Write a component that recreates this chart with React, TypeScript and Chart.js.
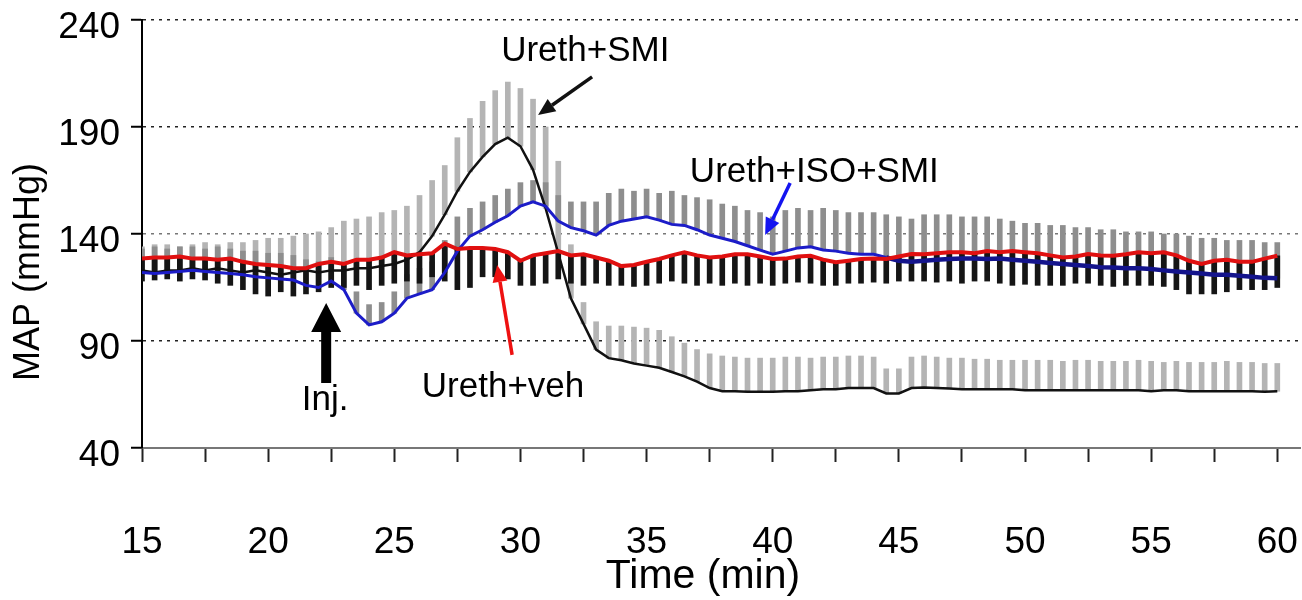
import React, { useEffect, useRef } from 'react';
import { Chart, registerables } from 'chart.js';

Chart.register(...registerables);

const FONT = '"Liberation Sans", Arial, Helvetica, sans-serif';

// Time axis (min), sampled every 0.5 min
const timeMin = [
  15, 15.5, 16, 16.5, 17, 17.5, 18, 18.5, 19, 19.5,
  20, 20.5, 21, 21.5, 22, 22.5, 23, 23.5, 24, 24.5,
  25, 25.5, 26, 26.5, 27, 27.5, 28, 28.5, 29, 29.5,
  30, 30.5, 31, 31.5, 32, 32.5, 33, 33.5, 34, 34.5,
  35, 35.5, 36, 36.5, 37, 37.5, 38, 38.5, 39, 39.5,
  40, 40.5, 41, 41.5, 42, 42.5, 43, 43.5, 44, 44.5,
  45, 45.5, 46, 46.5, 47, 47.5, 48, 48.5, 49, 49.5,
  50, 50.5, 51, 51.5, 52, 52.5, 53, 53.5, 54, 54.5,
  55, 55.5, 56, 56.5, 57, 57.5, 58, 58.5, 59, 59.5,
  60,
];

// Ureth+SMI: mean MAP and upper error
const smiMean = [
  123, 122, 123, 123, 124, 123, 124, 123, 122, 123,
  122, 121, 122, 123, 122, 123, 123, 124, 124, 125,
  126, 128, 131.5, 139, 149, 160, 169, 176, 182, 185,
  181, 170, 152, 131, 110, 98, 86, 82, 81, 79.5,
  78.5, 77.5, 75.5, 73.5, 71, 68, 66.5, 66.5, 66.3, 66.3,
  66.3, 66.5, 66.5, 67, 67.5, 67.5, 68, 68, 68, 65.5,
  65.5, 68, 68.3, 68, 67.8, 67.5, 67.5, 67.5, 67.5, 67.5,
  67, 67, 67, 67, 67, 67, 67, 67, 67, 67,
  66.5, 67, 67, 66.5, 66.5, 66.5, 66.5, 66.5, 66.5, 66.3,
  66.5,
];
const smiUpper = [
  134, 135, 135, 134, 135, 136, 135, 136, 136, 137,
  138, 138, 139, 140, 141, 143, 146, 147, 148, 150,
  151, 153, 158, 165, 172, 185, 194, 202, 207, 211,
  208, 203, 190, 174, 135, 108, 99, 97, 97, 96.5,
  96, 95, 92, 89, 86, 84, 83, 82.5, 82, 82,
  82, 82.5, 82.5, 82, 82.5, 82.5, 83, 83, 82.5, 77,
  77, 82.5, 83, 82.5, 82, 82, 81.5, 81.5, 81, 81,
  81, 81, 81, 80.5, 81, 81, 80.5, 80.5, 80.5, 81,
  80.5, 80, 80.5, 80, 80, 80, 80.5, 80, 80, 79.5,
  79.5,
];

// Ureth+ISO+SMI: mean MAP and upper error
const isoMean = [
  122, 121.5, 122, 122.5, 123, 122.5, 122, 121.5, 121, 120,
  119.5, 119, 118.5, 116, 115, 118, 114, 103, 97.5, 99,
  103, 110, 112, 114, 122, 132, 139, 142, 145.5, 148.5,
  153, 155, 153, 146, 143, 141.5, 139.5, 144, 146, 147,
  148, 146.5, 144.5, 144, 142, 139.5, 138, 136.5, 134.5, 132.5,
  130.6, 132, 133.5, 134, 132.5, 132, 131, 130.5, 130.5, 129,
  127.5, 127, 127.5, 128, 128.3, 128.5, 128.5, 128.3, 128.5, 128,
  127.5, 127, 126.5, 126, 125.5, 125, 124.5, 124.3, 124, 124,
  123.6, 123, 122.5, 122, 121.5, 121, 121, 120.5, 120, 119.5,
  119.3,
];
const isoUpper = [
  133, 134, 133, 134, 134, 133, 134, 133, 132, 132,
  131, 131, 130, 128, 127, 129, 125, 113, 107, 108,
  113, 121, 124, 127, 137, 148, 152, 155, 158, 161,
  164, 165, 164, 158, 155, 155, 155, 159, 161, 160,
  161, 159, 160, 158, 157, 156, 154, 153, 151, 150,
  148, 151, 152, 151, 152, 151, 150, 150, 150, 149,
  148, 147, 149, 149, 149, 148, 148, 148, 147, 146,
  145, 145, 144, 144, 143, 143, 142, 142, 141, 141,
  141, 140, 140, 139, 138, 138, 137, 137, 137, 136,
  136,
];

// Ureth+veh: mean MAP and lower error
const vehMean = [
  128.5, 129, 129, 129.5, 128.5, 128.5, 128, 128.5, 127, 126,
  125.5, 125, 124, 124, 126, 127, 126, 128, 128, 129,
  131.5, 130, 130.5, 131, 135.5, 133, 133.5, 133.5, 133, 131.5,
  127.5, 130, 131, 132, 130, 130.5, 129, 127.5, 125, 125.5,
  127, 128.3, 130, 131.5, 130, 129, 129.5, 130.5, 130.5, 129.5,
  128.3, 128.5, 129.5, 129.8, 128, 126.8, 127.5, 128.3, 128.5, 128.3,
  129.5, 130.6, 130.5, 131, 131.5, 131.5, 131, 132, 131.5, 132,
  131.5, 131, 130, 129, 129.5, 130.6, 130, 129.8, 130.5, 131.5,
  131, 131.5, 130, 127.5, 126, 127.5, 128, 127, 127, 128.5,
  129.8,
];
const vehLower = [
  118, 118.5, 119, 118, 119, 118.5, 117, 116, 114, 112,
  111, 113, 111, 112, 113, 115, 115, 116, 114, 116,
  117, 118, 117, 120, 118, 114, 115, 120, 120, 119,
  116, 116, 117, 119, 117, 116, 117, 116, 116, 115.5,
  116, 117, 118, 117, 116, 117, 116, 117, 116, 117,
  116, 117, 117.5, 117, 116, 116, 117, 117, 117.5, 117,
  118, 118, 118, 117.5, 118, 117, 118, 118, 117, 116,
  116.5, 116, 116, 116, 117, 117, 116, 115.5, 116, 116,
  116, 115.5, 114, 112, 112, 112, 113, 114, 114, 114,
  115,
];

const yTickValues = [40, 90, 140, 190, 240];
const xTickValues = [15, 17.5, 20, 22.5, 25, 27.5, 30, 32.5, 35, 37.5, 40, 42.5, 45, 47.5, 50, 52.5, 55, 57.5, 60];
const xLabelValues = [15, 20, 25, 30, 35, 40, 45, 50, 55, 60];

// Annotations, placed in data units (min, mmHg)
const noteTexts = [
  { text: 'Ureth+SMI', t: 32.57, v: 225.5 },
  { text: 'Ureth+ISO+SMI', t: 41.65, v: 169 },
  { text: 'Ureth+veh', t: 29.31, v: 68.5 },
  { text: 'Inj.', t: 22.26, v: 62.4 },
];
const noteArrows = [
  { color: '#111111', t1: 32.84, v1: 213.4, t2: 30.7, v2: 195.6 },
  { color: '#1414f0', t1: 40.69, v1: 163.8, t2: 39.7, v2: 139.5 },
  { color: '#ee1111', t1: 29.67, v1: 83.5, t2: 29.08, v2: 125.5 },
];
const injArrow = { t: 22.3, tipV: 107.8, headV: 94.2, tailV: 70.4 };
const navyFrom = 44.5; // ISO+SMI trace drawn darker after this time

const annotationPlugin = {
  id: 'figureNotes',
  afterDatasetsDraw(chart: any) {
    const { ctx, scales } = chart;
    const x = scales.x;
    const y = scales.y;
    ctx.save();
    // arrows
    for (const a of noteArrows) {
      const x1 = x.getPixelForValue(a.t1);
      const y1 = y.getPixelForValue(a.v1);
      const x2 = x.getPixelForValue(a.t2);
      const y2 = y.getPixelForValue(a.v2);
      const ang = Math.atan2(y2 - y1, x2 - x1);
      const headLen = 17;
      const headHalf = 7.5;
      const bx = x2 - headLen * Math.cos(ang);
      const by = y2 - headLen * Math.sin(ang);
      ctx.strokeStyle = a.color;
      ctx.fillStyle = a.color;
      ctx.lineWidth = 3.5;
      ctx.beginPath();
      ctx.moveTo(x1, y1);
      ctx.lineTo(bx, by);
      ctx.stroke();
      ctx.beginPath();
      ctx.moveTo(x2, y2);
      ctx.lineTo(bx + headHalf * Math.sin(ang), by - headHalf * Math.cos(ang));
      ctx.lineTo(bx - headHalf * Math.sin(ang), by + headHalf * Math.cos(ang));
      ctx.closePath();
      ctx.fill();
    }
    // injection arrow
    const ix = x.getPixelForValue(injArrow.t);
    const tipY = y.getPixelForValue(injArrow.tipV);
    const headY = y.getPixelForValue(injArrow.headV);
    const tailY = y.getPixelForValue(injArrow.tailV);
    ctx.fillStyle = '#000';
    ctx.beginPath();
    ctx.moveTo(ix, tipY);
    ctx.lineTo(ix + 15, headY);
    ctx.lineTo(ix + 5, headY);
    ctx.lineTo(ix + 5, tailY);
    ctx.lineTo(ix - 5, tailY);
    ctx.lineTo(ix - 5, headY);
    ctx.lineTo(ix - 15, headY);
    ctx.closePath();
    ctx.fill();
    // texts
    ctx.fillStyle = '#000';
    ctx.font = `35px ${FONT}`;
    ctx.textAlign = 'center';
    ctx.textBaseline = 'middle';
    for (const n of noteTexts) {
      ctx.fillText(n.text, x.getPixelForValue(n.t), y.getPixelForValue(n.v));
    }
    // x-axis title
    ctx.font = `41px ${FONT}`;
    ctx.fillText('Time (min)', 703, 577);
    // y-axis title
    ctx.font = `36px ${FONT}`;
    ctx.translate(29, 272);
    ctx.rotate(-Math.PI / 2);
    ctx.fillText('MAP (mmHg)', 0, 0);
    ctx.restore();
  },
};

export default function App() {
  const ref = useRef<HTMLCanvasElement>(null);

  useEffect(() => {
    document.body.style.margin = '0';
    const canvas = ref.current;
    if (!canvas) return;

    const linePts = (vals: number[]) => timeMin.map((t, i) => ({ x: t, y: vals[i] }));
    const barPts = (lo: number[], hi: number[]) => timeMin.map((t, i) => ({ x: t, y: [lo[i], hi[i]] }));

    const chart = new Chart(canvas, {
      type: 'line',
      data: {
        datasets: [
          {
            type: 'line', label: 'Ureth+veh', data: linePts(vehMean) as any,
            borderColor: '#e01010', borderWidth: 4, pointRadius: 0, tension: 0, order: 0,
          },
          {
            type: 'line', label: 'Ureth+ISO+SMI', data: linePts(isoMean) as any,
            borderColor: '#1c1cc8', borderWidth: 3, pointRadius: 0, tension: 0, order: 1,
            segment: {
              borderColor: (c: any) => (c.p0.parsed.x >= navyFrom ? '#14148c' : '#1c1cc8'),
              borderWidth: (c: any) => (c.p0.parsed.x >= navyFrom ? 4.5 : 3),
            },
          } as any,
          {
            type: 'line', label: 'Ureth+SMI', data: linePts(smiMean) as any,
            borderColor: '#111111', borderWidth: 2.5, pointRadius: 0, tension: 0, order: 2,
          },
          {
            type: 'bar', label: 'veh err', data: barPts(vehLower, vehMean) as any,
            backgroundColor: '#151515', barThickness: 5, grouped: false, order: 3,
          } as any,
          {
            type: 'bar', label: 'ISO err', data: barPts(isoMean, isoUpper) as any,
            backgroundColor: '#8e8e8e', barThickness: 5, grouped: false, order: 4,
          } as any,
          {
            type: 'bar', label: 'SMI err', data: barPts(smiMean, smiUpper) as any,
            backgroundColor: '#b4b4b4', barThickness: 5, grouped: false, order: 5,
          } as any,
        ],
      },
      options: {
        animation: false,
        responsive: false,
        maintainAspectRatio: false,
        layout: { padding: { top: 20, right: 2, left: 0, bottom: 0 } },
        plugins: { legend: { display: false }, tooltip: { enabled: false } },
        scales: {
          x: {
            type: 'linear',
            min: 15,
            max: 60.9,
            offset: false,
            afterBuildTicks: (s: any) => { s.ticks = xTickValues.map((v) => ({ value: v })); },
            afterFit: (s: any) => { s.height = 152; s.paddingLeft = 0; s.paddingRight = 0; },
            ticks: {
              autoSkip: false,
              maxRotation: 0,
              padding: 59,
              color: '#000',
              font: { family: FONT, size: 37 },
              callback: (v: any) => (xLabelValues.includes(Number(v)) ? String(v) : ''),
            },
            grid: { drawOnChartArea: false, offset: false, tickLength: 14, tickWidth: 2, tickColor: '#222' },
            border: { color: '#777', width: 2 },
          },
          y: {
            type: 'linear',
            min: 40,
            max: 240,
            afterBuildTicks: (s: any) => { s.ticks = yTickValues.map((v) => ({ value: v })); },
            afterFit: (s: any) => { s.width = 142; s.paddingTop = 0; s.paddingBottom = 0; },
            ticks: {
              padding: 11,
              labelOffset: 8,
              color: '#000',
              font: { family: FONT, size: 37 },
            },
            grid: {
              color: (c: any) => (c.tick && c.tick.value === 40 ? 'rgba(0,0,0,0)' : c.tick && c.tick.value === 140 ? '#777' : '#222'),
              lineWidth: 1.5,
              tickLength: 11,
              tickWidth: 2,
              tickColor: '#000',
              tickBorderDash: [],
            },
            border: { color: '#000', width: 2, dash: [3, 5] },
          },
        },
      },
      plugins: [annotationPlugin],
    } as any);

    return () => chart.destroy();
  }, []);

  return (
    <div style={{ width: 1302, height: 600, background: '#fff' }}>
      <canvas ref={ref} width={1302} height={600} style={{ display: 'block' }} />
    </div>
  );
}
